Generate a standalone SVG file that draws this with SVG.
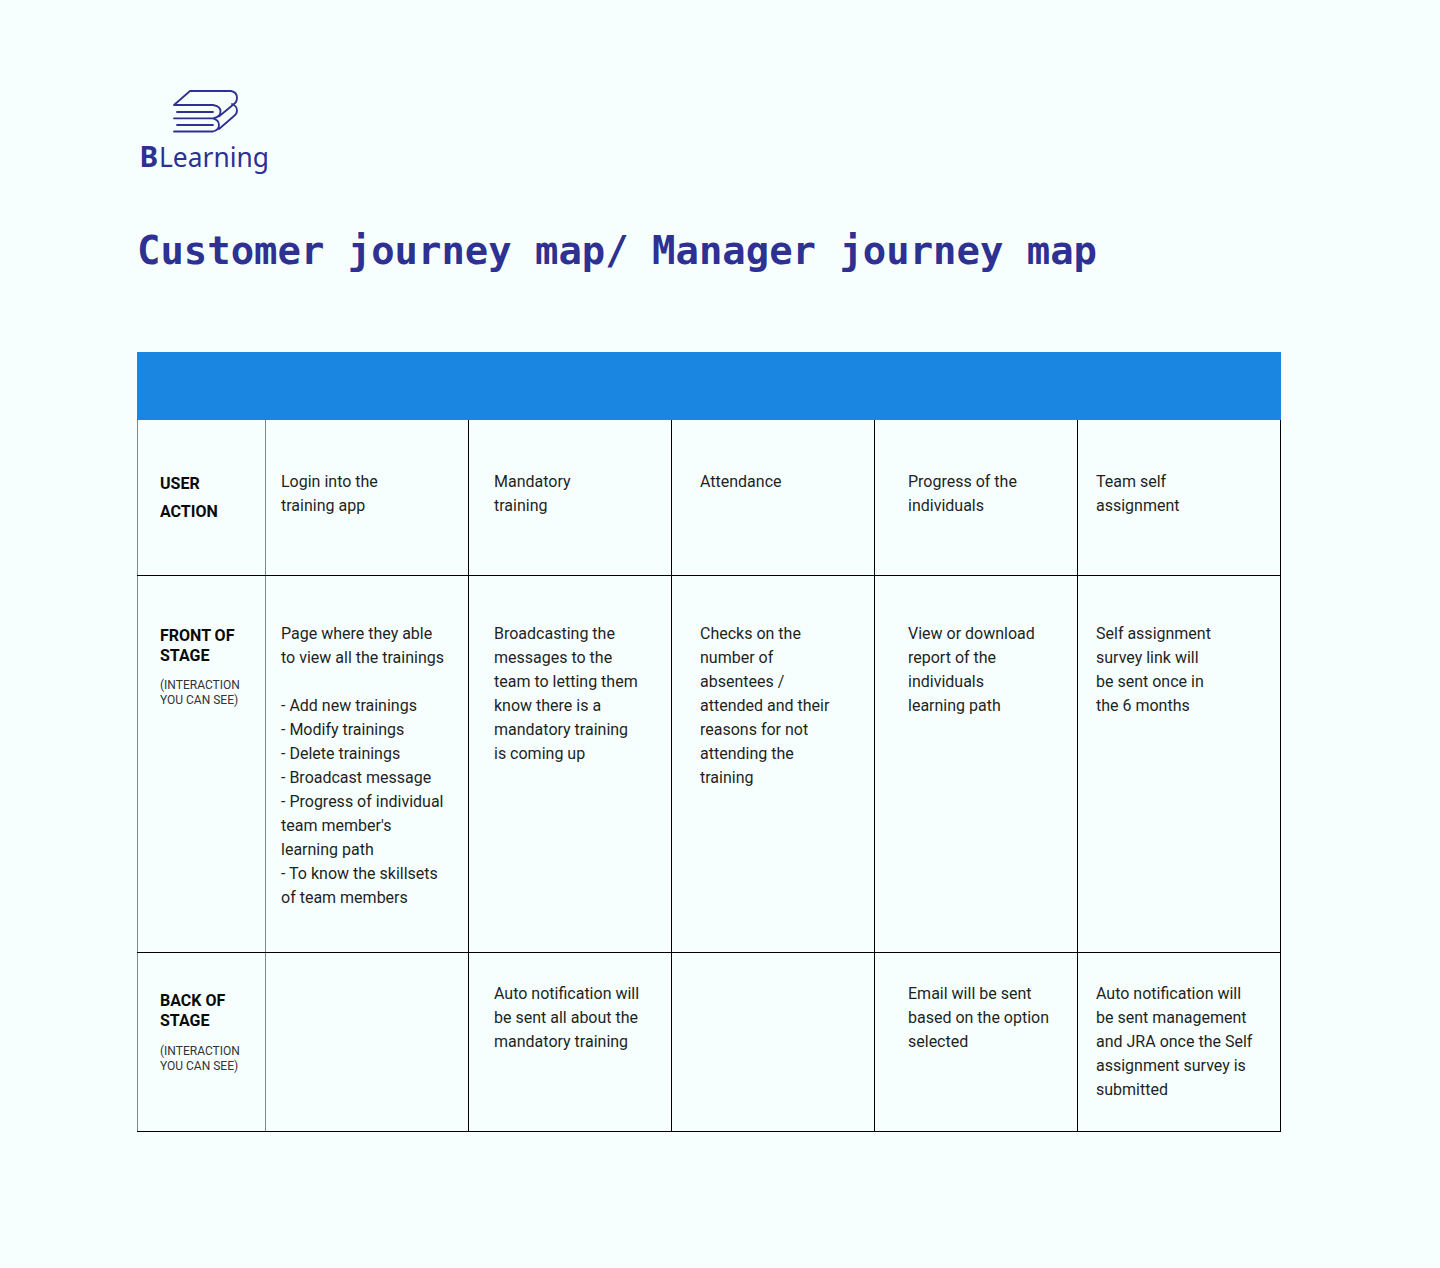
<svg xmlns="http://www.w3.org/2000/svg" width="1440" height="1268" viewBox="0 0 1440 1268">
<style>
.t{font-family:Roboto,"Liberation Sans",sans-serif;font-size:16px;fill:#1f1f1f}
.b{font-family:Roboto,"Liberation Sans",sans-serif;font-size:16px;font-weight:700;fill:#0a0a0a}
.s{font-family:Roboto,"Liberation Sans",sans-serif;font-size:12px;fill:#333}
.k{stroke:#000;stroke-width:1;fill:none}
.g{stroke:#7f8a8a;stroke-width:1;fill:none}
.l{stroke:#2e3192;stroke-width:1.800;fill:none;stroke-linecap:round;stroke-linejoin:round}
</style>
<rect width="1440" height="1268" fill="#f6fffe"/>
<g id="logo">
<path class="l" d="M174 105L190 91H231Q237 92 237 98Q237 102 234 104L219.500 116M174 105H213Q220.500 106 220.500 111.500Q220.500 117 213 118.300H174M213 118.300Q219 120 219 125Q219 130 213 131.500H174M177 112H213M177 125H213M232 104Q237 106 237 110.500Q237 114 234 116L219 129"/>
<text x="139.500" y="167" font-family="'Noto Sans',sans-serif" font-size="28" font-weight="700" fill="#2e3192">B</text>
<text x="159" y="167" font-family="'Noto Sans',sans-serif" font-size="28" fill="#2e3192" textLength="110" lengthAdjust="spacingAndGlyphs">Learning</text>
</g>
<text id="title" x="137" y="264" font-family="'DejaVu Sans Mono',monospace" font-size="38.900" font-weight="700" fill="#2e3192">Customer journey map/ Manager journey map</text>
<g id="table">
<rect x="137" y="352" width="1144" height="68" fill="#1a86e2"/>
<path class="g" d="M137.500 420V1132M265.500 420V1132"/>
<path class="k" d="M468.500 420V1132M671.500 420V1132M874.500 420V1132M1077.500 420V1132M1280.500 420V1132M137 575.500H1281M137 952.500H1281M137 1131.500H1281"/>
</g>
<g id="row-user-action">
<text class="b" x="160" y="489">USER</text><text class="b" x="160" y="517">ACTION</text>
<text class="t"><tspan x="281" y="487">Login into the</tspan><tspan x="281" y="511">training app</tspan></text>
<text class="t"><tspan x="494" y="487">Mandatory</tspan><tspan x="494" y="511">training</tspan></text>
<text class="t" x="700" y="487">Attendance</text>
<text class="t"><tspan x="908" y="487">Progress of the</tspan><tspan x="908" y="511">individuals</tspan></text>
<text class="t"><tspan x="1096" y="487">Team self</tspan><tspan x="1096" y="511">assignment</tspan></text>
</g>
<g id="row-front-of-stage">
<text class="b"><tspan x="160" y="641">FRONT OF</tspan><tspan x="160" y="661">STAGE</tspan></text>
<text class="s"><tspan x="160" y="689">(INTERACTION</tspan><tspan x="160" y="704">YOU CAN SEE)</tspan></text>
<text class="t"><tspan x="281" y="639">Page where they able</tspan><tspan x="281" y="663">to view all the trainings</tspan><tspan x="281" y="711">- Add new trainings</tspan><tspan x="281" y="735">- Modify trainings</tspan><tspan x="281" y="759">- Delete trainings</tspan><tspan x="281" y="783">- Broadcast message</tspan><tspan x="281" y="807">- Progress of individual</tspan><tspan x="281" y="831">team member's</tspan><tspan x="281" y="855">learning path</tspan><tspan x="281" y="879">- To know the skillsets</tspan><tspan x="281" y="903">of team members</tspan></text>
<text class="t"><tspan x="494" y="639">Broadcasting the</tspan><tspan x="494" y="663">messages to the</tspan><tspan x="494" y="687">team to letting them</tspan><tspan x="494" y="711">know there is a</tspan><tspan x="494" y="735">mandatory training</tspan><tspan x="494" y="759">is coming up</tspan></text>
<text class="t"><tspan x="700" y="639">Checks on the</tspan><tspan x="700" y="663">number of</tspan><tspan x="700" y="687">absentees /</tspan><tspan x="700" y="711">attended and their</tspan><tspan x="700" y="735">reasons for not</tspan><tspan x="700" y="759">attending the</tspan><tspan x="700" y="783">training</tspan></text>
<text class="t"><tspan x="908" y="639">View or download</tspan><tspan x="908" y="663">report of the</tspan><tspan x="908" y="687">individuals</tspan><tspan x="908" y="711">learning path</tspan></text>
<text class="t"><tspan x="1096" y="639">Self assignment</tspan><tspan x="1096" y="663">survey link will</tspan><tspan x="1096" y="687">be sent once in</tspan><tspan x="1096" y="711">the 6 months</tspan></text>
</g>
<g id="row-back-of-stage">
<text class="b"><tspan x="160" y="1006">BACK OF</tspan><tspan x="160" y="1026">STAGE</tspan></text>
<text class="s"><tspan x="160" y="1055">(INTERACTION</tspan><tspan x="160" y="1070">YOU CAN SEE)</tspan></text>
<text class="t"><tspan x="494" y="999">Auto notification will</tspan><tspan x="494" y="1023">be sent all about the</tspan><tspan x="494" y="1047">mandatory training</tspan></text>
<text class="t"><tspan x="908" y="999">Email will be sent</tspan><tspan x="908" y="1023">based on the option</tspan><tspan x="908" y="1047">selected</tspan></text>
<text class="t"><tspan x="1096" y="999">Auto notification will</tspan><tspan x="1096" y="1023">be sent management</tspan><tspan x="1096" y="1047">and JRA once the Self</tspan><tspan x="1096" y="1071">assignment survey is</tspan><tspan x="1096" y="1095">submitted</tspan></text>
</g>
</svg>
